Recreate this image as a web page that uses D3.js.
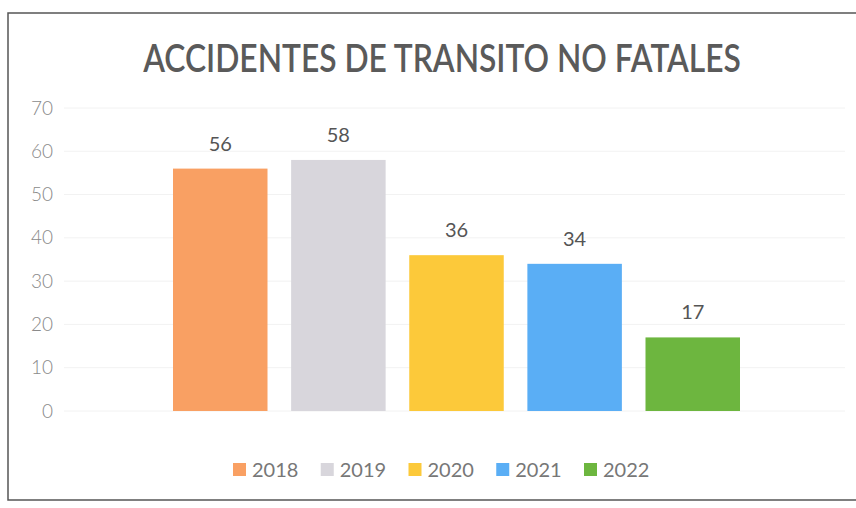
<!DOCTYPE html>
<html>
<head>
<meta charset="utf-8">
<title>Accidentes de transito no fatales</title>
<script src="https://cdn.jsdelivr.net/npm/d3@7"></script>
<style>
  body { margin: 0; background: #fff; }
  svg text { font-family: Lato, "Open Sans", sans-serif; }
</style>
</head>
<body>
<div id="chart"></div>
<script>
// values
var years = ["2018", "2019", "2020", "2021", "2022"];
var accidents = [56, 58, 36, 34, 17];
var yTicks = [0, 10, 20, 30, 40, 50, 60, 70];
var colors = ["#F9A063", "#D8D6DC", "#FCC93A", "#5AAEF5", "#6DB63F"];
var title = "ACCIDENTES DE TRANSITO NO FATALES";

var width = 856, height = 508;

var svg = d3.select("#chart").append("svg")
    .attr("width", width)
    .attr("height", height);

// scanned frame
svg.append("rect")
    .attr("x", 8).attr("y", 13)
    .attr("width", width + 20).attr("height", 487)
    .attr("fill", "#fff")
    .attr("stroke", "#555")
    .attr("stroke-width", 1.5);

var y = d3.scaleLinear().domain([0, 70]).range([411, 108]);

var x = d3.scaleBand()
    .domain(years)
    .range([173, 740])
    .paddingInner(0.2)
    .paddingOuter(0);

// faint gridlines
svg.append("g").selectAll("line")
    .data(yTicks)
  .enter().append("line")
    .attr("x1", 64).attr("x2", 845)
    .attr("y1", function (d) { return y(d); })
    .attr("y2", function (d) { return y(d); })
    .attr("stroke", "#f2f2f2")
    .attr("stroke-width", 1);

// y axis labels only
var yAxis = d3.axisLeft(y).tickValues(yTicks).tickSize(0).tickPadding(0);
var gy = svg.append("g")
    .attr("transform", "translate(53,0)")
    .call(yAxis);
gy.select(".domain").remove();
gy.selectAll("text")
    .attr("fill", "#8a8a8a")
    .style("font-size", "19px")
    .style("font-family", "Lato, sans-serif")
    .style("font-weight", 300);

// title, squeezed horizontally to the width of the reference
var t = svg.append("text")
    .attr("x", 0)
    .attr("y", 0)
    .attr("text-anchor", "middle")
    .attr("fill", "#5a5a5a")
    .style("font-size", "38px")
    .style("font-weight", 600)
    .text(title);
var tw = t.node().getComputedTextLength();
t.attr("transform", "translate(442,72) scale(" + (598 / tw) + ",1)");

var data = years.map(function (yr, i) { return { year: yr, value: accidents[i], color: colors[i] }; });

svg.selectAll(".bar")
    .data(data)
  .enter().append("rect")
    .attr("class", "bar")
    .attr("x", function (d) { return x(d.year); })
    .attr("y", function (d) { return y(d.value); })
    .attr("width", x.bandwidth())
    .attr("height", function (d) { return y(0) - y(d.value); })
    .attr("fill", function (d) { return d.color; });

svg.selectAll(".lbl")
    .data(data)
  .enter().append("text")
    .attr("class", "lbl")
    .attr("x", function (d) { return x(d.year) + x.bandwidth() / 2; })
    .attr("y", function (d) { return y(d.value) - 18; })
    .attr("text-anchor", "middle")
    .attr("fill", "#555")
    .style("font-size", "20px")
    .text(function (d) { return d.value; });

// legend
var legendX = d3.scalePoint().domain(years).range([233, 584]);
var lg = svg.selectAll(".leg")
    .data(data)
  .enter().append("g")
    .attr("class", "leg")
    .attr("transform", function (d) { return "translate(" + legendX(d.year) + ",470)"; });
lg.append("rect")
    .attr("x", 0).attr("y", -7)
    .attr("width", 13).attr("height", 13)
    .attr("fill", function (d) { return d.color; });
lg.append("text")
    .attr("x", 19)
    .attr("y", 7)
    .attr("fill", "#777")
    .style("font-size", "20px")
    .text(function (d) { return d.year; });
</script>
</body>
</html>
